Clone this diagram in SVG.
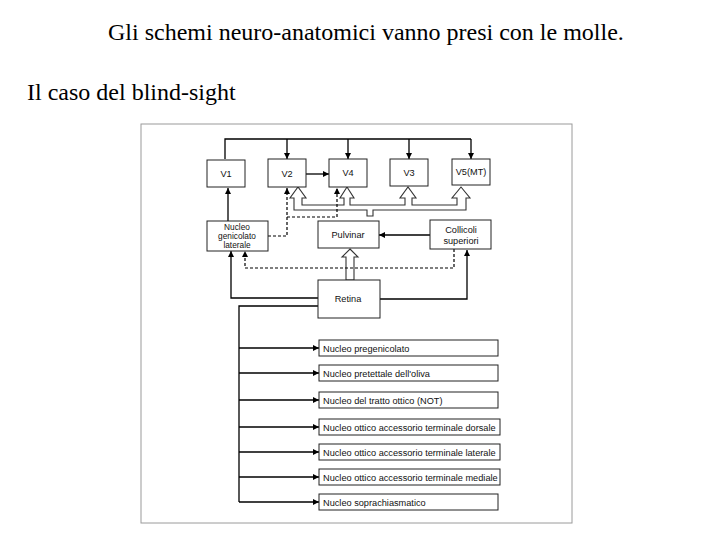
<svg xmlns="http://www.w3.org/2000/svg" width="720" height="540" viewBox="0 0 720 540">
<style>
.title{font-family:"Liberation Serif","Times New Roman",serif;font-size:24px;fill:#000}
.box{fill:#fff;stroke:#222;stroke-width:1}
.lbl{font-family:"Liberation Sans",Arial,sans-serif;font-size:9.2px;fill:#111;text-anchor:middle}
.sm{font-size:8.3px}
.item{font-family:"Liberation Sans",Arial,sans-serif;font-size:9.2px;fill:#111}
.ln{fill:none;stroke:#000;stroke-width:1.3}
.dash{fill:none;stroke:#000;stroke-width:1.2;stroke-dasharray:3 2}
.hollow{fill:#fff;stroke:#333;stroke-width:1.1}
.frame{fill:none;stroke:#9a9a9a;stroke-width:1}
</style>
<defs>
<marker id="ah" viewBox="0 0 10 10" refX="10" refY="5" markerWidth="7" markerHeight="6" markerUnits="userSpaceOnUse" orient="auto">
<path d="M0,0 L10,5 L0,10 Z" fill="#000"/>
</marker>
</defs>
<rect width="720" height="540" fill="#fff"/>
<text class="title" x="108" y="40">Gli schemi neuro-anatomici vanno presi con le molle.</text>
<text class="title" x="27" y="100">Il caso del blind-sight</text>
<rect class="frame" x="141" y="124" width="431" height="399"/>

<g id="connectors">
<path class="hollow" d="M294,210 L294,198 L290,198 L298,187 L306,198 L302,198 L302,205 L344,205 L344,198 L340,198 L347,187 L354,198 L350,198 L350,205 L405,205 L405,198 L400,198 L408,187 L416,198 L412,198 L412,205 L457,205 L457,198 L452,198 L461,187 L470,198 L466,198 L466,210 L373,210 L373,216 L367,216 L367,210 Z"/>
<path class="hollow" d="M350,249 L358,257 L354,257 L354,280 L346,280 L346,257 L342,257 Z"/>
<path class="ln" d="M225,159 L225,139 L471,139"/>
<path class="ln" d="M287,139 L287,159" marker-end="url(#ah)"/>
<path class="ln" d="M348,139 L348,159" marker-end="url(#ah)"/>
<path class="ln" d="M409,139 L409,159" marker-end="url(#ah)"/>
<path class="ln" d="M471,139 L471,159" marker-end="url(#ah)"/>
<path class="ln" d="M306,174 L329,174" marker-end="url(#ah)"/>
<path class="ln" d="M228,222 L228,188" marker-end="url(#ah)"/>
<path class="dash" d="M268,236 L287,236 L287,188" marker-end="url(#ah)"/>
<path class="dash" d="M287,217 L337,217 L337,188" marker-end="url(#ah)"/>
<path class="ln" d="M430,235 L379,235" marker-end="url(#ah)"/>
<path class="dash" d="M454,249 L454,268 L245,268 L245,251" marker-end="url(#ah)"/>
<path class="ln" d="M318,298 L231,298 L231,251" marker-end="url(#ah)"/>
<path class="ln" d="M380,299 L467,299 L467,250" marker-end="url(#ah)"/>
<path class="ln" d="M318,306 L239,306 L239,502"/>
<path class="ln" d="M239,348 L319,348" marker-end="url(#ah)"/>
<path class="ln" d="M239,373 L319,373" marker-end="url(#ah)"/>
<path class="ln" d="M239,400 L319,400" marker-end="url(#ah)"/>
<path class="ln" d="M239,427 L319,427" marker-end="url(#ah)"/>
<path class="ln" d="M239,452 L319,452" marker-end="url(#ah)"/>
<path class="ln" d="M239,477 L319,477" marker-end="url(#ah)"/>
<path class="ln" d="M239,502 L319,502" marker-end="url(#ah)"/>
</g>

<g id="v1"><rect class="box" x="207" y="160" width="38" height="27"/><text class="lbl" x="226" y="177">V1</text></g>
<g id="v2"><rect class="box" x="268" y="159" width="38" height="28"/><text class="lbl" x="287" y="177">V2</text></g>
<g id="v4"><rect class="box" x="329" y="159" width="38" height="28"/><text class="lbl" x="348" y="176">V4</text></g>
<g id="v3"><rect class="box" x="390" y="159" width="38" height="27"/><text class="lbl" x="409" y="176">V3</text></g>
<g id="v5"><rect class="box" x="452" y="159" width="38" height="26"/><text class="lbl" x="471" y="175">V5(MT)</text></g>

<g id="lgn"><rect class="box" x="207" y="221" width="61" height="30"/>
<text class="lbl sm" x="237" y="229.5">Nucleo</text>
<text class="lbl sm" x="237" y="238.5">genicolato</text>
<text class="lbl sm" x="237" y="247.5">laterale</text></g>
<g id="pulvinar"><rect class="box" x="318" y="221" width="61" height="27"/><text class="lbl" x="348" y="238">Pulvinar</text></g>
<g id="collicoli"><rect class="box" x="430" y="220" width="61" height="29"/>
<text class="lbl" x="461" y="233">Collicoli</text>
<text class="lbl" x="461" y="243.5">superiori</text></g>
<g id="retina"><rect class="box" x="318" y="280" width="62" height="38"/><text class="lbl" x="348" y="302">Retina</text></g>

<g id="n1"><rect class="box" x="319" y="340" width="179" height="16"/><text class="item" x="323" y="351.5">Nucleo pregenicolato</text></g>
<g id="n2"><rect class="box" x="319" y="365" width="179" height="16"/><text class="item" x="323" y="376.5">Nucleo pretettale dell'oliva</text></g>
<g id="n3"><rect class="box" x="319" y="392" width="179" height="16"/><text class="item" x="323" y="403.5">Nucleo del tratto ottico (NOT)</text></g>
<g id="n4"><rect class="box" x="319" y="419" width="181" height="16"/><text class="item" x="323" y="430.5">Nucleo ottico accessorio terminale dorsale</text></g>
<g id="n5"><rect class="box" x="319" y="444" width="181" height="16"/><text class="item" x="323" y="455.5">Nucleo ottico accessorio terminale laterale</text></g>
<g id="n6"><rect class="box" x="319" y="469" width="181" height="16"/><text class="item" x="323" y="480.5">Nucleo ottico accessorio terminale mediale</text></g>
<g id="n7"><rect class="box" x="319" y="494" width="179" height="16"/><text class="item" x="323" y="505.5">Nucleo soprachiasmatico</text></g>
</svg>
